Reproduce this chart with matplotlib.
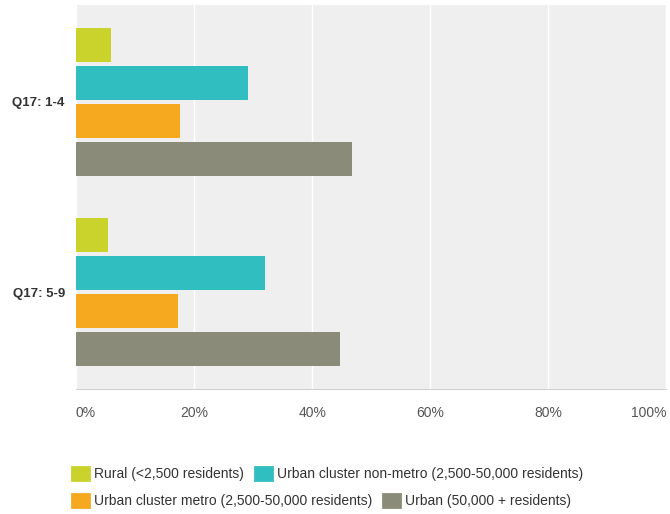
import numpy as np
import matplotlib.pyplot as plt
from matplotlib.patches import Patch

plt.rcParams['font.family'] = ['Liberation Sans', 'DejaVu Sans']

questions = ['Q17: 1-4', 'Q17: 5-9']
series_names = ['Rural (<2,500 residents)',
                'Urban cluster non-metro (2,500-50,000 residents)',
                'Urban cluster metro (2,500-50,000 residents)',
                'Urban (50,000 + residents)']
rural = [6.0, 5.5]
urban_nonmetro = [29.1, 32.0]
urban_metro = [17.6, 17.2]
urban = [46.8, 44.7]
colors = ['#c9d32c', '#31bec0', '#f6a91e', '#8a8b79']

values = [rural, urban_nonmetro, urban_metro, urban]

fig = plt.figure(figsize=(6.7, 5.14), dpi=100)
ax = fig.add_axes([0.1134, 0.2432, 0.881, 0.747])
ax.set_facecolor('#efefef')

y = np.arange(len(questions))
step = 0.2
offsets = (np.arange(4) - 1.5) * step
for vals, off, c in zip(values, offsets, colors):
    ax.barh(y + off, vals, height=0.18, color=c, zorder=3)

ax.set_xlim(0, 100)
ax.set_ylim(1.51, -0.51)
ax.set_xticks(np.arange(0, 101, 20))
ax.set_xticklabels([f'{v}%' for v in range(0, 101, 20)], color='#555555', fontsize=10)
xt = ax.get_xticklabels()
xt[0].set_horizontalalignment('left')
xt[-1].set_horizontalalignment('right')
ax.set_yticks(y)
ax.set_yticklabels(questions, fontweight='bold', color='#333333', fontsize=9.5)
ax.tick_params(length=0, pad=12, axis='x')
ax.tick_params(length=0, pad=8, axis='y')
ax.grid(axis='x', color='white', linewidth=1, zorder=1)
for s in ['top', 'right', 'left']:
    ax.spines[s].set_visible(False)
ax.spines['bottom'].set_color('#d0d0d0')

handles = [Patch(facecolor=c, edgecolor=c, linewidth=2, joinstyle='round') for c in colors]

leg_kw = dict(ncol=2, frameon=False, fontsize=10, handletextpad=0.36,
              handlelength=1.25, handleheight=1.0,
              columnspacing=0.75, borderaxespad=0, borderpad=0,
              labelcolor='#333333')
fig.legend(handles[:2], series_names[:2], loc='center left',
           bbox_to_anchor=(0.1075, 0.077), **leg_kw)
fig.legend(handles[2:], series_names[2:], loc='center left',
           bbox_to_anchor=(0.1075, 0.025), **leg_kw)

fig.savefig('out.png', dpi=100)
